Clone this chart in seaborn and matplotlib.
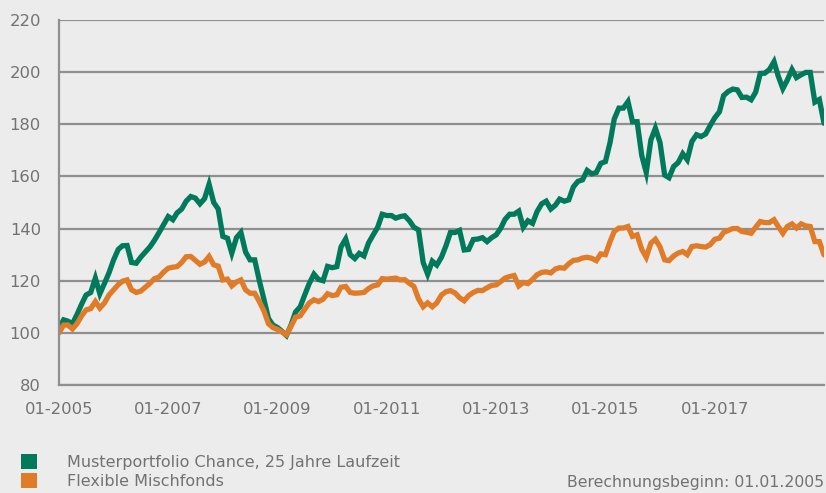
import numpy as np
import pandas as pd
import matplotlib
matplotlib.use("Agg")
import matplotlib.pyplot as plt
import matplotlib.dates as mdates
from matplotlib.patches import Patch
import seaborn as sns

# Monthly index values (start = 100), January 2005 to January 2019
months = pd.date_range("2005-01-01", "2019-01-01", freq="MS")

chance = [
    102, 105, 104.5, 103.5, 107, 111, 114.5, 115.5, 121, 115, 119, 123,
    128, 132, 133.4, 133.5, 127, 126.7, 129, 131, 133, 135.5, 138.5, 141.5,
    144.6, 143.4, 146, 147.5, 150.5, 152.3, 151.7, 149.5, 151.5, 157, 150, 147.5,
    137, 136.3, 130.6, 136.5, 138.5, 131, 128, 128, 120, 113, 105.5, 103,
    102, 100.5, 99, 103, 108, 110, 114.5, 119, 122.5, 120.5, 120, 125.5,
    125, 125.4, 133, 136, 130, 128.5, 130.5, 129.5, 134.5, 137.5, 140.5, 145.5,
    145, 145, 144, 144.6, 144.9, 143, 140.5, 139.5, 127, 122.5, 127.5, 126,
    129, 133.5, 138.5, 138.5, 139.3, 131.8, 132, 135.8, 136, 136.5, 135, 136.5,
    137.6, 140.2, 143.5, 145.5, 145.5, 146.7, 140.5, 143, 142, 146.5, 149.5, 150.5,
    147.5, 149, 151.3, 150.5, 151, 156, 158.1, 158.7, 162.3, 161, 161.5, 165,
    165.7, 173, 182, 186.2, 186.2, 188.7, 181, 181, 168, 161.5, 174, 178.5,
    173, 160.5, 159.5, 163.8, 165.3, 168.7, 166.4, 173.4, 176, 175.3, 176.3, 179.5,
    182.5, 184.8, 191, 192.6, 193.5, 193.2, 190.3, 190.4, 189.4, 192.3, 199.5, 199.6,
    201, 204, 198.5, 193.7, 197, 201, 197.9, 199, 199.9, 199.9, 188.5, 189.5,
    180.4,
]

mischfonds = [
    100, 103, 103, 101.5, 103.5, 106.5, 108.8, 109.3, 112, 109.5, 111.5, 114.5,
    116.5, 118.5, 119.8, 120.3, 116.5, 115.5, 116, 117.5, 119, 120.8, 121.4, 123.3,
    124.8, 125.2, 125.4, 127, 129.2, 129.3, 127.8, 126.3, 127.2, 129.3, 126.1, 125.6,
    120.3, 120.6, 118, 119.5, 120.3, 116.5, 115.2, 115.2, 112, 108.5, 103.5, 102,
    101.3, 100.3, 99.3, 102.5, 106, 106.5, 109, 111.5, 112.7, 112, 112.9, 115,
    114.3, 114.6, 117.5, 117.8, 115.5, 115.2, 115.3, 115.5, 117, 118, 118.4, 120.8,
    120.6, 120.8, 121, 120.3, 120.4, 119, 117.8, 113, 110, 111.5, 110, 111.5,
    114.5, 115.8, 116.2, 115.3, 113.5, 112.3, 114.3, 115.5, 116.3, 116.2, 117.3, 118.2,
    118.4, 119.7, 121, 121.6, 122, 118, 119.3, 118.9, 120.5, 122.3, 123.2, 123.4,
    123, 124.5, 125, 124.8, 126.5, 127.8, 128, 128.7, 129, 128.6, 127.7, 130.3,
    130, 135, 138.9, 140.2, 140.2, 140.8, 137, 137.6, 132, 129, 134.4, 135.9,
    133, 128, 127.7, 129.5, 130.6, 131.2, 130, 133.1, 133.4, 133.1, 132.9, 133.8,
    135.9, 136.3, 138.5, 139.3, 140, 140, 138.9, 138.6, 138.2, 140.5, 142.7, 142.3,
    142.3, 143.4, 140.8, 138.2, 140.8, 141.8, 140.2, 141.8, 141, 140.8, 135, 135,
    129.9,
]

series_names = ["Musterportfolio Chance, 25 Jahre Laufzeit", "Flexible Mischfonds"]
series_colors = ["#007a5b", "#e07b28"]
y_ticks = [80, 100, 120, 140, 160, 180, 200, 220]
x_tick_years = [2005, 2007, 2009, 2011, 2013, 2015, 2017, 2019]
start_note = "Berechnungsbeginn: 01.01.2005"

df = pd.concat([
    pd.DataFrame({"Datum": months, "Wert": chance, "Serie": series_names[0]}),
    pd.DataFrame({"Datum": months, "Wert": mischfonds, "Serie": series_names[1]}),
])

bg = "#ececec"
grid_col = "#8f8f8f"
text_col = "#727272"

sns.set_style("white", {"axes.facecolor": bg, "figure.facecolor": bg})
plt.rcParams["font.family"] = ["DejaVu Sans"]

fig = plt.figure(figsize=(8.26, 4.93), dpi=100)
fig.patch.set_facecolor(bg)
W, H = 826, 493
ax = fig.add_axes([59 / W, 1 - 385 / H, (824 - 59) / W, (385 - 20) / H])
ax.set_facecolor(bg)

sns.lineplot(data=df, x="Datum", y="Wert", hue="Serie", hue_order=series_names,
             palette=series_colors, linewidth=3.8, legend=False, ax=ax,
             solid_joinstyle="miter")

ax.set_ylim(80, 220)
ax.set_yticks(y_ticks)
ax.set_xlim(pd.Timestamp("2005-01-01"), pd.Timestamp("2019-01-01"))
tick_dates = [pd.Timestamp(f"{y}-01-01") for y in x_tick_years]
ax.set_xticks(tick_dates)
ax.set_xticklabels([d.strftime("%m-%Y") if d.year < 2019 else "" for d in tick_dates])

ax.grid(axis="y", color=grid_col, linewidth=1.6)
ax.grid(axis="x", visible=False)
ax.set_axisbelow(True)
for side in ["top", "right"]:
    ax.spines[side].set_visible(False)
for side in ["left", "bottom"]:
    ax.spines[side].set_color(grid_col)
    ax.spines[side].set_linewidth(1.6)
ax.tick_params(axis="both", colors=grid_col, length=5, width=1.4,
               labelcolor=text_col, labelsize=11.8)
ax.tick_params(axis="y", pad=8)
ax.tick_params(axis="x", pad=7)
ax.set_xlabel("")
ax.set_ylabel("")

handles = [Patch(facecolor=c, edgecolor="none") for c in series_colors]
fig.legend(handles, series_names, loc="upper left",
           bbox_to_anchor=(21 / W, 1 - 454 / H), frameon=False,
           fontsize=11.5, handlelength=1.0, handleheight=1.05,
           handletextpad=1.85, labelspacing=0.2, borderaxespad=0, borderpad=0,
           labelcolor=text_col)

fig.text(824 / W, 1 - 483 / H, start_note, ha="right", va="center",
         fontsize=11.3, color=text_col)

fig.savefig("out.png", dpi=100, facecolor=bg)
